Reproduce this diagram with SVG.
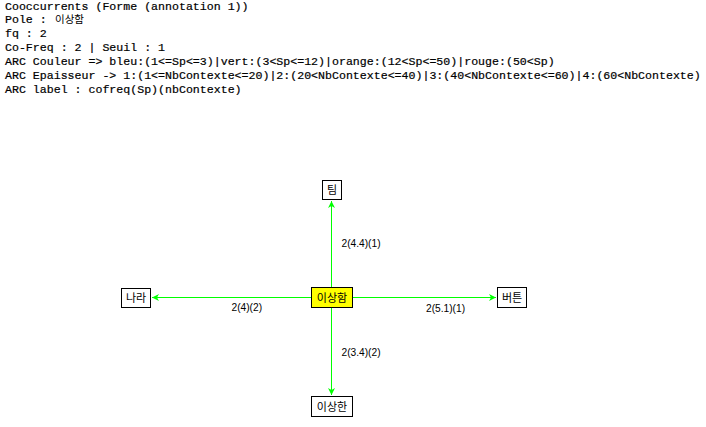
<svg xmlns="http://www.w3.org/2000/svg" width="706" height="427" viewBox="0 0 706 427">
<style>
.hdr{font-family:"Liberation Mono","Courier New",monospace;font-size:11.6px;fill:#000;stroke:#000;stroke-width:0.2}
.kr{font-family:"Noto Sans CJK KR","Noto Sans",sans-serif;font-size:10.5px;fill:#000}
.box{fill:#fff;stroke:#000;stroke-width:1}
.pole{fill:#ffff00;stroke:#000;stroke-width:1}
.nl{font-family:"Noto Sans CJK KR",sans-serif;font-size:11px;fill:#000;text-anchor:middle}
.el{font-family:"Liberation Sans",Arial,sans-serif;font-size:10.2px;fill:#000}
.edge{stroke:#00ff00;stroke-width:1;fill:none}
</style>
<defs>
<marker id="ah" markerWidth="8" markerHeight="8" refX="7" refY="4" orient="auto" markerUnits="userSpaceOnUse">
<path d="M0,0.5 L7,4 L0,7.5 L2,4 Z" fill="#00ff00"/>
</marker>
</defs>
<rect width="706" height="427" fill="#fff"/>
<g id="header">
<text class="hdr" x="5" y="9.5">Cooccurrents (Forme (annotation 1))</text>
<text class="hdr" x="5" y="23.4">Pole :</text>
<text class="kr" x="55" y="23">이상함</text>
<text class="hdr" x="5" y="37.3">fq : 2</text>
<text class="hdr" x="5" y="51.2">Co-Freq : 2 | Seuil : 1</text>
<text class="hdr" x="5" y="65.1">ARC Couleur =&gt; bleu:(1&lt;=Sp&lt;=3)|vert:(3&lt;Sp&lt;=12)|orange:(12&lt;Sp&lt;=50)|rouge:(50&lt;Sp)</text>
<text class="hdr" x="5" y="79">ARC Epaisseur -&gt; 1:(1&lt;=NbContexte&lt;=20)|2:(20&lt;NbContexte&lt;=40)|3:(40&lt;NbContexte&lt;=60)|4:(60&lt;NbContexte)</text>
<text class="hdr" x="5" y="92.9">ARC label : cofreq(Sp)(nbContexte)</text>
</g>
<g id="connectors">
<line class="edge" x1="331.5" y1="297.5" x2="331.5" y2="201" marker-end="url(#ah)"/>
<line class="edge" x1="331.5" y1="297.5" x2="152" y2="297.5" marker-end="url(#ah)"/>
<line class="edge" x1="331.5" y1="297.5" x2="496" y2="297.5" marker-end="url(#ah)"/>
<line class="edge" x1="331.5" y1="297.5" x2="331.5" y2="395" marker-end="url(#ah)"/>
<text class="el" x="341.5" y="247">2(4.4)(1)</text>
<text class="el" x="231.5" y="311">2(4)(2)</text>
<text class="el" x="426" y="312">2(5.1)(1)</text>
<text class="el" x="341.5" y="355.5">2(3.4)(2)</text>
</g>
<g id="node-pole">
<rect class="pole" x="311.5" y="287.5" width="41" height="20"/>
<text class="nl" x="332" y="301.5">이상함</text>
</g>
<g id="node-tim">
<rect class="box" x="322.5" y="180.5" width="19" height="19"/>
<text class="nl" x="332" y="194">팀</text>
</g>
<g id="node-nara">
<rect class="box" x="121.5" y="288.5" width="29" height="19"/>
<text class="nl" x="136" y="302">나라</text>
</g>
<g id="node-button">
<rect class="box" x="497.5" y="287.5" width="29" height="20"/>
<text class="nl" x="512" y="301.5">버튼</text>
</g>
<g id="node-isanghan">
<rect class="box" x="311.5" y="396.5" width="41" height="20"/>
<text class="nl" x="332" y="410.5">이상한</text>
</g>
</svg>
